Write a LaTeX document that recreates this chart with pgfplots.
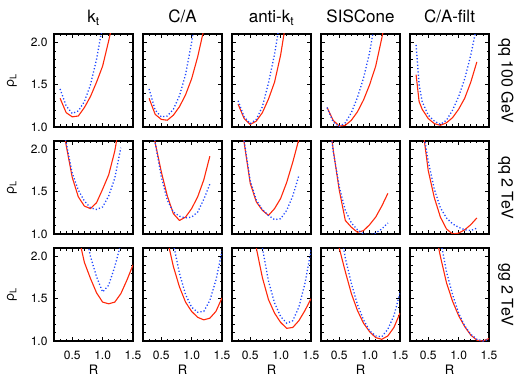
\documentclass[border=0pt]{standalone}
\usepackage{pgfplots}
\pgfplotsset{compat=1.18}
\usepgfplotslibrary{groupplots}
\usetikzlibrary{calc}
\usepackage{fontspec}
\setmainfont{TeX Gyre Heros}
\definecolor{cred}{RGB}{255,40,10}
\definecolor{cblue}{RGB}{30,70,255}
\begin{document}
\begin{tikzpicture}
\pgfplotsset{
  rl/.style={cred, line width=1.1pt, line join=round},
  bl/.style={cblue, line width=1.3pt, dash pattern=on 1.2pt off 2.1pt},
}
\begin{groupplot}[
  group style={group size=5 by 3, horizontal sep=10pt, vertical sep=14pt,
    xticklabels at=edge bottom, yticklabels at=edge left},
  width=79pt, height=93pt, scale only axis,
  xmin=0.2, xmax=1.5, ymin=1, ymax=2.1,
  xtick={0.5,1,1.5}, ytick={1,1.5,2},
  minor xtick={0.3,0.4,0.6,0.7,0.8,0.9,1.1,1.2,1.3,1.4},
  minor ytick={1.1,1.2,1.3,1.4,1.6,1.7,1.8,1.9},
  tick align=inside, major tick length=4pt, minor tick length=2.5pt,
  every tick/.style={black, line width=0.8pt},
  axis line style={line width=1.2pt},
  tick label style={font=\fontsize{12}{12}\selectfont},
  /pgf/number format/assume math mode=true,
  /pgf/number format/fixed, /pgf/number format/fixed zerofill, /pgf/number format/precision=1,
  xticklabel style={yshift=-6pt},
  yticklabel style={xshift=-3pt},
]
% Row 1: qq 100 GeV
\nextgroupplot
\addplot[rl] coordinates {(0.3,1.34)(0.4,1.17)(0.5,1.12)(0.6,1.13)(0.7,1.23)(0.8,1.36)(0.9,1.53)(1.0,1.72)(1.1,2.02)(1.2,2.35)};
\addplot[bl] coordinates {(0.3,1.45)(0.4,1.25)(0.5,1.16)(0.6,1.19)(0.7,1.30)(0.8,1.50)(0.9,1.80)(1.0,2.2)};
\nextgroupplot
\addplot[rl] coordinates {(0.3,1.34)(0.4,1.15)(0.5,1.09)(0.6,1.08)(0.7,1.14)(0.8,1.24)(0.9,1.38)(1.0,1.57)(1.1,1.83)(1.2,2.15)};
\addplot[bl] coordinates {(0.3,1.45)(0.4,1.20)(0.5,1.12)(0.6,1.13)(0.7,1.21)(0.8,1.37)(0.9,1.62)(1.0,2.0)(1.1,2.5)};
\nextgroupplot
\addplot[rl] coordinates {(0.3,1.27)(0.4,1.10)(0.5,1.03)(0.6,1.07)(0.7,1.17)(0.8,1.33)(0.9,1.53)(1.0,1.85)(1.1,2.3)};
\addplot[bl] coordinates {(0.3,1.31)(0.4,1.12)(0.5,1.04)(0.6,1.09)(0.7,1.24)(0.8,1.52)(0.9,1.86)(1.0,2.3)};
\nextgroupplot
\addplot[rl] coordinates {(0.3,1.23)(0.4,1.08)(0.5,1.01)(0.6,1.02)(0.7,1.08)(0.8,1.18)(0.9,1.32)(1.0,1.50)(1.1,1.72)(1.2,2.05)(1.3,2.4)};
\addplot[bl] coordinates {(0.3,1.23)(0.4,1.06)(0.5,1.005)(0.6,1.05)(0.7,1.17)(0.8,1.35)(0.9,1.58)(1.0,1.88)(1.1,2.3)};
\nextgroupplot
\addplot[rl] coordinates {(0.3,1.62)(0.35,1.30)(0.4,1.21)(0.5,1.10)(0.6,1.04)(0.7,1.02)(0.8,1.05)(0.9,1.11)(1.0,1.21)(1.1,1.34)(1.2,1.53)(1.3,1.77)};
\addplot[bl] coordinates {(0.3,1.97)(0.35,1.50)(0.4,1.30)(0.5,1.14)(0.6,1.07)(0.7,1.03)(0.8,1.08)(0.9,1.20)(1.0,1.36)(1.1,1.57)(1.2,1.85)(1.3,2.2)};
% Row 2: qq 2 TeV
\nextgroupplot
\addplot[rl] coordinates {(0.3,2.5)(0.4,2.05)(0.5,1.67)(0.6,1.44)(0.7,1.33)(0.8,1.30)(0.9,1.37)(1.0,1.53)(1.1,1.70)(1.2,1.98)(1.3,2.4)};
\addplot[bl] coordinates {(0.3,2.5)(0.4,2.08)(0.5,1.72)(0.6,1.52)(0.7,1.39)(0.8,1.31)(0.9,1.29)(1.0,1.32)(1.1,1.45)(1.2,1.66)(1.3,2.02)};
\nextgroupplot
\addplot[rl] coordinates {(0.3,2.5)(0.4,2.08)(0.5,1.74)(0.6,1.45)(0.7,1.24)(0.8,1.16)(0.9,1.20)(1.0,1.30)(1.1,1.44)(1.2,1.64)(1.3,1.92)};
\addplot[bl] coordinates {(0.3,2.5)(0.4,2.08)(0.5,1.68)(0.6,1.40)(0.7,1.26)(0.8,1.21)(0.9,1.19)(1.0,1.20)(1.1,1.26)(1.2,1.41)(1.3,1.59)};
\nextgroupplot
\addplot[rl] coordinates {(0.3,2.6)(0.4,2.08)(0.5,1.60)(0.6,1.38)(0.7,1.28)(0.8,1.22)(0.9,1.30)(1.0,1.42)(1.1,1.61)(1.2,1.85)(1.3,2.12)};
\addplot[bl] coordinates {(0.3,2.6)(0.4,2.1)(0.5,1.63)(0.6,1.40)(0.7,1.29)(0.8,1.22)(0.9,1.17)(1.0,1.18)(1.1,1.28)(1.2,1.45)(1.3,1.69)};
\nextgroupplot
\addplot[rl] coordinates {(0.3,2.6)(0.4,2.0)(0.5,1.52)(0.6,1.16)(0.7,1.08)(0.8,1.02)(0.9,1.04)(1.0,1.11)(1.1,1.20)(1.2,1.33)(1.3,1.48)};
\addplot[bl] coordinates {(0.3,2.6)(0.4,1.98)(0.5,1.56)(0.6,1.28)(0.7,1.13)(0.8,1.05)(0.9,1.00)(1.0,0.99)(1.1,1.01)(1.2,1.06)(1.3,1.13)};
\nextgroupplot
\addplot[rl] coordinates {(0.3,2.9)(0.4,2.3)(0.5,1.75)(0.6,1.43)(0.7,1.20)(0.8,1.06)(0.9,1.00)(1.0,1.01)(1.1,1.05)(1.2,1.11)(1.3,1.19)};
\addplot[bl] coordinates {(0.3,2.9)(0.4,2.3)(0.5,1.86)(0.6,1.53)(0.7,1.31)(0.8,1.19)(0.9,1.12)(1.0,1.08)(1.1,1.05)(1.2,1.04)(1.3,1.07)};
% Row 3: gg 2 TeV
\nextgroupplot
\addplot[rl] coordinates {(0.5,2.6)(0.6,2.25)(0.7,1.93)(0.8,1.74)(0.9,1.57)(1.0,1.46)(1.1,1.44)(1.2,1.46)(1.3,1.56)(1.4,1.72)(1.5,1.90)};
\addplot[bl] coordinates {(0.6,2.7)(0.7,2.35)(0.8,2.0)(0.9,1.76)(1.0,1.58)(1.1,1.66)(1.2,1.88)(1.3,2.15)};
\nextgroupplot
\addplot[rl] coordinates {(0.5,2.6)(0.6,2.2)(0.7,1.88)(0.8,1.64)(0.9,1.46)(1.0,1.35)(1.1,1.28)(1.2,1.25)(1.3,1.27)(1.4,1.35)(1.5,1.51)};
\addplot[bl] coordinates {(0.6,2.6)(0.7,2.15)(0.8,1.80)(0.9,1.55)(1.0,1.40)(1.1,1.34)(1.2,1.35)(1.3,1.48)(1.4,1.72)(1.5,2.06)};
\nextgroupplot
\addplot[rl] coordinates {(0.5,2.6)(0.6,2.1)(0.7,1.75)(0.8,1.49)(0.9,1.33)(1.0,1.22)(1.1,1.15)(1.2,1.16)(1.3,1.24)(1.4,1.36)(1.5,1.50)};
\addplot[bl] coordinates {(0.6,2.6)(0.7,2.1)(0.8,1.71)(0.9,1.45)(1.0,1.29)(1.1,1.21)(1.2,1.24)(1.3,1.40)(1.4,1.68)(1.5,2.07)};
\nextgroupplot
\addplot[rl] coordinates {(0.4,2.5)(0.5,2.1)(0.6,1.82)(0.7,1.56)(0.8,1.36)(0.9,1.21)(1.0,1.11)(1.1,1.04)(1.2,1.02)(1.3,1.06)(1.4,1.16)(1.5,1.33)};
\addplot[bl] coordinates {(0.4,2.8)(0.5,2.4)(0.6,1.98)(0.7,1.68)(0.8,1.43)(0.9,1.25)(1.0,1.12)(1.1,1.06)(1.2,1.05)(1.3,1.14)(1.4,1.30)(1.5,1.57)};
\nextgroupplot
\addplot[rl] coordinates {(0.5,2.7)(0.6,2.35)(0.7,2.0)(0.8,1.69)(0.9,1.47)(1.0,1.30)(1.1,1.17)(1.2,1.07)(1.3,1.01)(1.4,1.00)(1.5,1.03)};
\addplot[bl] coordinates {(0.6,2.6)(0.7,2.2)(0.8,1.82)(0.9,1.55)(1.0,1.33)(1.1,1.18)(1.2,1.08)(1.3,1.02)(1.4,1.00)(1.5,1.02)};
\end{groupplot}
% column titles
\foreach \c/\t in {1/{k\textsubscript{t}},2/{C/A},3/{anti-k\textsubscript{t}},4/{SISCone},5/{C/A-filt}}{
  \node[anchor=base, font=\fontsize{17}{17}\selectfont, inner sep=0pt] at ($(group c\c r1.north)+(0,11.5pt)$) {\t};
}
% row labels
\foreach \r/\t in {1/{qq 100 GeV},2/{qq 2 TeV},3/{gg 2 TeV}}{
  \node[anchor=south, rotate=-90, font=\fontsize{16}{16}\selectfont, inner sep=0pt] at ($(group c5r\r.east)+(9pt,0)$) {\t};
  \node[rotate=90, font=\fontsize{13}{13}\selectfont, inner sep=0pt] at ($(group c1r\r.west)+(-42pt,0)$) {ρ\textsubscript{L}};
}
% x labels
\foreach \c in {1,...,5}{
  \node[anchor=base, font=\fontsize{13}{13}\selectfont, inner sep=0pt] at ($(group c\c r3.south)+(0,-33pt)$) {R};
}
\pgfresetboundingbox
\path[use as bounding box] ($(group c1r1.north west)+(-54pt,34pt)$) rectangle ($(group c5r3.south east)+(30pt,-36pt)$);
\end{tikzpicture}
\end{document}
